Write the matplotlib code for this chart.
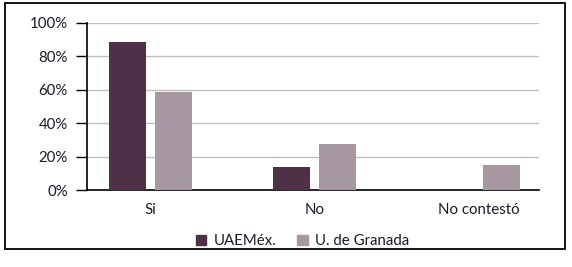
import matplotlib
matplotlib.use("Agg")
import matplotlib.pyplot as plt
import numpy as np
from matplotlib.patches import Rectangle, Patch

categories = ["Si", "No", "No contestó"]
series_names = ["UAEMéx.", "U. de Granada"]
uaemex = [88.5, 13.9, 0.0]
granada = [58.7, 27.6, 15.1]
y_ticks = [0, 20, 40, 60, 80, 100]
y_tick_labels = ["0%", "20%", "40%", "60%", "80%", "100%"]

colors = ["#4E3049", "#A797A1"]

plt.rcParams['font.family'] = ['Lato', 'DejaVu Sans']
W, H = 572, 267
fig = plt.figure(figsize=(W / 100, H / 100), dpi=100)
ax = fig.add_axes([87.3 / W, 1 - 190.3 / H, (539 - 87.3) / W, (190.3 - 22.7) / H])

x = np.arange(len(categories))
bw = 0.225
off = 0.142
ax.bar(x - off, uaemex, bw, color=colors[0], zorder=3)
ax.bar(x + off, granada, bw, color=colors[1], zorder=3)

ax.set_xlim(-0.385, 2.37)
ax.set_ylim(0, 100)
ax.set_yticks(y_ticks)
ax.set_yticklabels(y_tick_labels, fontsize=10.8, color="#1a1a2a")
ax.set_xticks(x)
ax.set_xticklabels(categories, fontsize=10.8, color="#1a1a2a")
ax.tick_params(axis="x", length=0, pad=9)
ax.tick_params(axis="y", length=8, width=1, pad=6, direction="out")
ax.yaxis.grid(True, color="#BFBFBF", linewidth=1, zorder=0)
ax.set_axisbelow(True)
for s in ["top", "right"]:
    ax.spines[s].set_visible(False)
ax.spines["left"].set_linewidth(1.2)
ax.spines["bottom"].set_linewidth(1.2)

handles = [Patch(color=c) for c in colors]
fig.legend(handles, series_names, loc="center", bbox_to_anchor=(302.5 / W, 1 - 241 / H),
           ncol=2, frameon=False, fontsize=10.8, handlelength=0.7, handleheight=0.7,
           handletextpad=0.5, columnspacing=1.4, labelcolor="#1a1a2a")

fig.patches.append(Rectangle((5 / W, 1 - 249 / H), 560 / W, 246 / H, transform=fig.transFigure,
                             fill=False, edgecolor="black", linewidth=1.3))

fig.savefig("out.png", dpi=100)
